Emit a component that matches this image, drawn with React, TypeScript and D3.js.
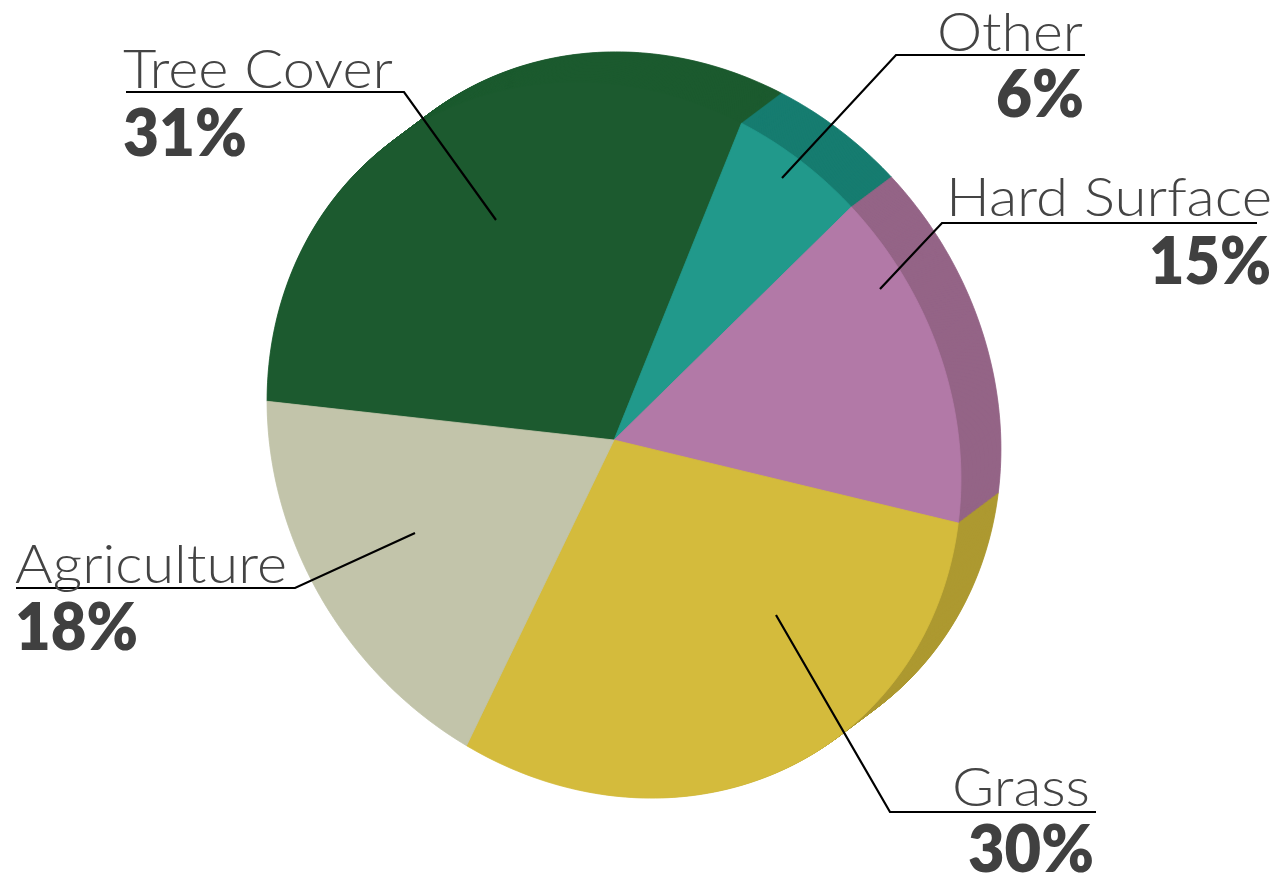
import React from "react";
import * as d3 from "d3";

// ---- data ----
const categories = ["Tree Cover", "Other", "Hard Surface", "Grass", "Agriculture"];
const values = [31, 6, 15, 30, 18];
const percentLabels = ["31%", "6%", "15%", "30%", "18%"];
const topColors = ["#1c5a2f", "#21998b", "#b279a7", "#d4bb3c", "#c2c4aa"];
const sideColors = ["#1c5a2f", "#167c70", "#946487", "#ad9931", "#a3a58d"];

// ---- layout ----
const W = 1274;
const H = 891;
const CX = 614;
const CY = 440;
const A_MAJOR = 372; // along (0.6, 0.8)
const B_MINOR = 332; // along (0.8, -0.6)
const U = [0.8, -0.6];
const V = [0.6, 0.8];
const DEPTH = 50; // extrusion along U
const START_DEG = -140;

type LabelLayout = {
  x: number;
  pctX: number;
  nameY: number;
  pctY: number;
  nameW: number;
  pctW: number;
  anchor: "start" | "end";
  line: [number, number][];
};
const labelLayout: LabelLayout[] = [
  { x: 123, pctX: 123, nameY: 88, pctY: 156, nameW: 270, pctW: 124, anchor: "start", line: [[126, 92], [404, 92], [496, 220]] },
  { x: 1083, pctX: 1084, nameY: 51, pctY: 117, nameW: 146, pctW: 88, anchor: "end", line: [[1085, 55], [896, 55], [782, 178]] },
  { x: 1272, pctX: 1271, nameY: 216, pctY: 284, nameW: 326, pctW: 122, anchor: "end", line: [[1257, 223], [942, 223], [880, 289]] },
  { x: 1090, pctX: 1094, nameY: 806, pctY: 872, nameW: 138, pctW: 126, anchor: "end", line: [[1096, 812], [890, 812], [776, 615]] },
  { x: 15, pctX: 15, nameY: 583, pctY: 650, nameW: 272, pctW: 123, anchor: "start", line: [[16, 588], [295, 588], [415, 533]] },
];

function rimPoint(theta: number, dx: number, dy: number): [number, number] {
  const c = Math.cos(theta) * B_MINOR;
  const s = Math.sin(theta) * A_MAJOR;
  return [CX + c * U[0] + s * V[0] + dx, CY + c * U[1] + s * V[1] + dy];
}

function slicePath(a0: number, a1: number, dx: number, dy: number): string {
  const n = Math.max(4, Math.ceil(((a1 - a0) * 180) / Math.PI));
  const pts: [number, number][] = [[CX + dx, CY + dy]];
  for (let i = 0; i <= n; i++) {
    pts.push(rimPoint(a0 + ((a1 - a0) * i) / n, dx, dy));
  }
  return (d3.line()(pts) || "") + "Z";
}

export default function App() {
  const start = (START_DEG * Math.PI) / 180;
  const arcs = d3
    .pie<number>()
    .sort(null)
    .startAngle(start)
    .endAngle(start + 2 * Math.PI)(values);

  const depthScale = d3.scaleLinear().domain([0, 1]).range([0, DEPTH]);
  const steps = d3.range(DEPTH, 0, -1).map((k) => k / DEPTH);

  const layers: React.ReactNode[] = [];
  steps.forEach((t, li) => {
    const d = depthScale(t);
    const dx = U[0] * d;
    const dy = U[1] * d;
    arcs.forEach((a, i) => {
      layers.push(
        <path
          key={`l${li}-${i}`}
          d={slicePath(a.startAngle, a.endAngle, dx, dy)}
          fill={sideColors[i]}
          stroke={sideColors[i]}
          strokeWidth={0.8}
        />
      );
    });
  });

  return (
    <svg width={W} height={H} style={{ position: "absolute", left: 0, top: 0 }}>
      <rect width={W} height={H} fill="#ffffff" />
      <g>{layers}</g>
      <g>
        {arcs.map((a, i) => (
          <path
            key={`top${i}`}
            d={slicePath(a.startAngle, a.endAngle, 0, 0)}
            fill={topColors[i]}
            stroke={topColors[i]}
            strokeWidth={0.8}
          />
        ))}
      </g>
      <g>
        {labelLayout.map((l, i) => (
          <g key={`lab${i}`}>
            <path d={d3.line()(l.line) || ""} fill="none" stroke="#000" strokeWidth={2.2} />
            <text
              x={l.x}
              y={l.nameY}
              textAnchor={l.anchor}
              fontFamily="Lato, 'Open Sans', sans-serif"
              fontWeight={300}
              fontSize={54}
              fill="#444444"
              textLength={l.nameW}
              lengthAdjust="spacingAndGlyphs"
            >
              {categories[i]}
            </text>
            <text
              x={l.pctX}
              y={l.pctY}
              textAnchor={l.anchor}
              fontFamily="Lato, 'Open Sans', sans-serif"
              fontWeight={800}
              fontSize={67}
              fill="#404040"
              textLength={l.pctW}
              lengthAdjust="spacingAndGlyphs"
            >
              {percentLabels[i]}
            </text>
          </g>
        ))}
      </g>
    </svg>
  );
}
